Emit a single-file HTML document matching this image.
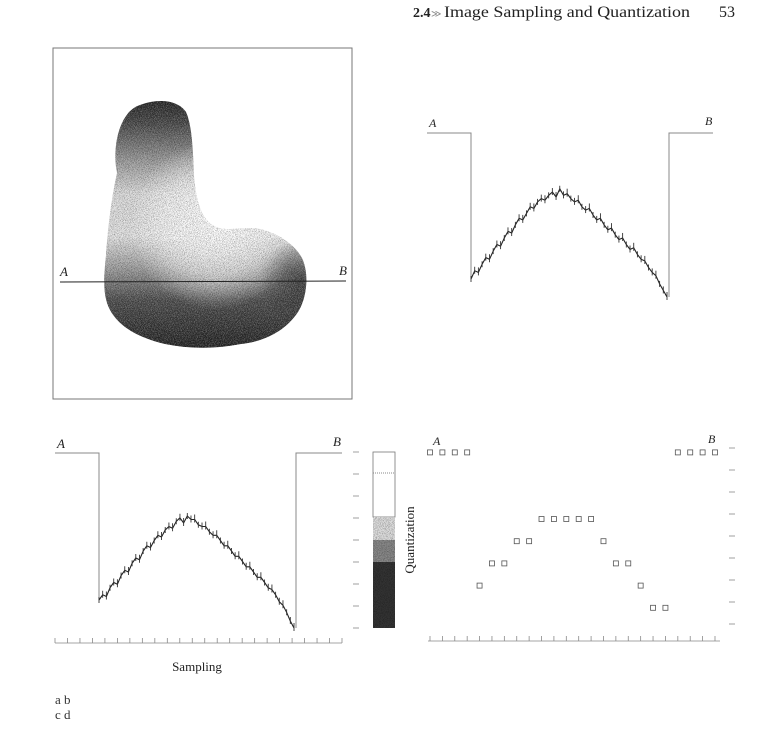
<!DOCTYPE html>
<html><head><meta charset="utf-8"><style>
html,body{margin:0;padding:0;background:#fff;}
svg{display:block;font-family:"Liberation Serif",serif;}
</style></head><body>
<svg id="fig" width="773" height="730" viewBox="0 0 773 730" xmlns="http://www.w3.org/2000/svg">
<defs>
<linearGradient id="blobGrad" x1="0" y1="98" x2="0" y2="350" gradientUnits="userSpaceOnUse">
<stop offset="0" stop-color="#1e1e1e"/><stop offset="0.1" stop-color="#444"/>
<stop offset="0.25" stop-color="#999"/><stop offset="0.38" stop-color="#ddd"/>
<stop offset="0.55" stop-color="#e4e4e4"/><stop offset="0.68" stop-color="#9a9a9a"/>
<stop offset="0.8" stop-color="#4a4a4a"/><stop offset="1" stop-color="#1e1e1e"/>
</linearGradient>
<radialGradient id="hl" cx="215" cy="225" r="85" gradientUnits="userSpaceOnUse">
<stop offset="0" stop-color="#fff" stop-opacity="1"/><stop offset="0.6" stop-color="#fff" stop-opacity="0.6"/><stop offset="1" stop-color="#fff" stop-opacity="0"/>
</radialGradient>
<radialGradient id="rimR" cx="300" cy="280" r="40" gradientUnits="userSpaceOnUse">
<stop offset="0" stop-color="#222" stop-opacity="0.7"/><stop offset="1" stop-color="#222" stop-opacity="0"/>
</radialGradient>
<filter id="stip" x="0" y="0" width="100%" height="100%">
<feTurbulence type="fractalNoise" baseFrequency="1.3" numOctaves="2" seed="4" result="n"/>
<feColorMatrix in="n" type="matrix" values="0 0 0 0 0  0 0 0 0 0  0 0 0 0 0  0 0 0 -4 2.2" result="a"/>
<feComposite in="a" in2="SourceAlpha" operator="in"/>
</filter>
<filter id="stipW" x="0" y="0" width="100%" height="100%">
<feTurbulence type="fractalNoise" baseFrequency="1.3" numOctaves="2" seed="9" result="n"/>
<feColorMatrix in="n" type="matrix" values="0 0 0 0 1  0 0 0 0 1  0 0 0 0 1  0 0 0 -4 2.2" result="a"/>
<feComposite in="a" in2="SourceAlpha" operator="in"/>
</filter>
<path id="blobShape" d="M117,173 C112,150 118,112 140,105 C158,98 178,100 186,112 C192,125 193,150 194,176 C197,210 205,230 230,229 C245,228 250,228 254,228 C270,230 292,240 302,258 C310,275 306,300 298,312 C285,332 262,342 241,344 C215,349 190,349 165,344 C140,338 120,328 110,310 C102,295 104,275 106,255 C108,225 112,195 117,173 Z"/>
</defs>
<g>
<text x="413" y="17" font-size="14" font-weight="bold" fill="#222">2.4</text>
<text x="431" y="17" font-size="10" fill="#888">≫</text>
<text x="444" y="17" font-size="16" fill="#222" textLength="246" lengthAdjust="spacingAndGlyphs">Image Sampling and Quantization</text>
<text x="719" y="17" font-size="16" fill="#222">53</text>
</g>
<g>
<rect x="53" y="48" width="299" height="351" fill="none" stroke="#777" stroke-width="1"/>
<use href="#blobShape" fill="url(#blobGrad)"/>
<use href="#blobShape" fill="url(#hl)"/>
<use href="#blobShape" fill="url(#rimR)"/>
<use href="#blobShape" fill="#000" filter="url(#stip)" opacity="0.35"/>
<use href="#blobShape" fill="#fff" filter="url(#stipW)" opacity="0.3"/>
<line x1="60" y1="282" x2="346" y2="281" stroke="#222" stroke-width="1"/>
<text x="60" y="276" font-size="13" font-style="italic" fill="#222">A</text>
<text x="339" y="275" font-size="13" font-style="italic" fill="#222">B</text>
</g>
<g id="panelB">
<text x="429" y="127" font-size="12" font-style="italic" fill="#222">A</text>
<text x="705" y="125" font-size="12" font-style="italic" fill="#222">B</text>
</g>
<g id="panelC">
<text x="57" y="448" font-size="13" font-style="italic" fill="#222">A</text>
<text x="333" y="446" font-size="13" font-style="italic" fill="#222">B</text>
<text x="197" y="671" font-size="13" text-anchor="middle" fill="#222">Sampling</text>
</g>
<g>
<rect x="373" y="452" width="22" height="65" fill="#fff" stroke="#777" stroke-width="0.8"/>
<line x1="373" y1="473" x2="395" y2="473" stroke="#888" stroke-dasharray="1,1"/>
<rect x="373" y="517" width="22" height="23" fill="#ddd"/>
<rect x="373" y="540" width="22" height="22" fill="#888"/>
<rect x="373" y="562" width="22" height="66" fill="#333"/>
<rect x="373" y="517" width="22" height="111" fill="#000" filter="url(#stip)" opacity="0.3"/>
<text transform="translate(414,540) rotate(-90)" font-size="13" text-anchor="middle" fill="#222">Quantization</text>
</g>
<g id="panelD">
<text x="433" y="445" font-size="12" font-style="italic" fill="#222">A</text>
<text x="708" y="443" font-size="12" font-style="italic" fill="#222">B</text>
</g>
<g>
<text x="55" y="704" font-size="13" fill="#333">a  b</text>
<text x="55" y="719" font-size="13" fill="#333">c  d</text>
</g>
</svg>
<script>
// intensity profile along A-B (0 = darkest, 100 = background)
const profileB = [11,16,15,20,24,23,28,32,31,36,40,39,44,48,47,51,55,54,58,60,59,62,64,61,66,62,63,60,58,59,55,53,54,50,47,48,44,41,42,38,35,36,32,29,30,26,23,22,18,15,13,8,4,0];
const profileC = [16,19,18,23,26,25,30,33,32,37,40,39,44,47,46,50,53,52,56,58,57,61,63,60,64,62,62,59,58,58,55,53,53,50,47,47,44,41,41,38,35,35,32,29,29,26,23,22,19,15,13,9,4,0];
// quantized samples (levels 0..8)
const quantLevels = [8,8,8,8,2,3,3,4,4,5,5,5,5,5,4,3,3,2,1,1,8,8,8,8];
const levelTicks = [0,1,2,3,4,5,6,7,8];
const sampleCount = 24;

const NS = "http://www.w3.org/2000/svg";
function mk(tag, attrs, parent){const e=document.createElementNS(NS,tag);for(const k in attrs)e.setAttribute(k,attrs[k]);parent.appendChild(e);return e;}

function drawProfile(g, vals, x0, x1, xL, xR, yTop, yBase, tickY){
  const xs = i => x0 + (x1-x0)*i/(vals.length-1);
  const ys = v => yBase - (yBase-yTop)*v/100;
  const left = mk("path",{d:`M${xL},${yTop} L${x0},${yTop} L${x0},${ys(vals[0])}`,fill:"none",stroke:"#888","stroke-width":"1"},g);
  
  
  const right = mk("path",{d:`M${x1+2},${ys(vals[vals.length-1])} L${x1+2},${yTop} L${xR},${yTop}`,fill:"none",stroke:"#888","stroke-width":"1"},g);
  
  
  let d = "";
  vals.forEach((v,i)=>{ d += (i?" L":"M") + `${xs(i).toFixed(1)},${ys(v).toFixed(1)}`; });
  const p = mk("path",{d:d,fill:"none",stroke:"#222","stroke-width":"1.1"},g);
  
  
  vals.forEach((v,i)=>{
    const t = mk("line",{x1:xs(i),x2:xs(i),y1:ys(v)-3-(i%3),y2:ys(v)+3,stroke:"#333","stroke-width":"0.9"},g);
    
    
  });
  if(tickY){
    const ax = mk("line",{x1:xL,x2:xR,y1:tickY,y2:tickY,stroke:"#888","stroke-width":"0.8"},g);
    
    
    for(let i=0;i<sampleCount;i++){
      const x = xL + (xR-xL)*i/(sampleCount-1);
      const tk = mk("line",{x1:x,x2:x,y1:tickY-5,y2:tickY,stroke:"#888","stroke-width":"0.8"},g);
      
      
    }
  }
}
drawProfile(document.getElementById("panelB"), profileB, 471, 667, 427, 713, 133, 297, null);
drawProfile(document.getElementById("panelC"), profileC, 99, 294, 55, 342, 453, 628, 643);

const gC = document.getElementById("panelC");
const gD = document.getElementById("panelD");
const lvlY = l => 628 - l*22;
levelTicks.forEach(l=>{
  const a = mk("line",{x1:353,x2:359,y1:lvlY(l),y2:lvlY(l),stroke:"#888","stroke-width":"0.8"},gC);
  
  
  const b = mk("line",{x1:729,x2:735,y1:lvlY(l)-4,y2:lvlY(l)-4,stroke:"#888","stroke-width":"0.8"},gD);
  
  
});
const qx = i => 430 + (715-430)*i/(sampleCount-1);
const qy = l => 630 - l*22.2;
const axD = mk("line",{x1:428,x2:720,y1:641,y2:641,stroke:"#888","stroke-width":"0.8"},gD);


for(let i=0;i<sampleCount;i++){
  const tk = mk("line",{x1:qx(i),x2:qx(i),y1:636,y2:641,stroke:"#888","stroke-width":"0.8"},gD);
  
  
}
quantLevels.forEach((l,i)=>{
  const r = mk("rect",{x:qx(i)-2.5,y:qy(l)-2.5,width:5,height:5,fill:"none",stroke:"#555","stroke-width":"0.8"},gD);
  
  
});
</script>
</body></html>
